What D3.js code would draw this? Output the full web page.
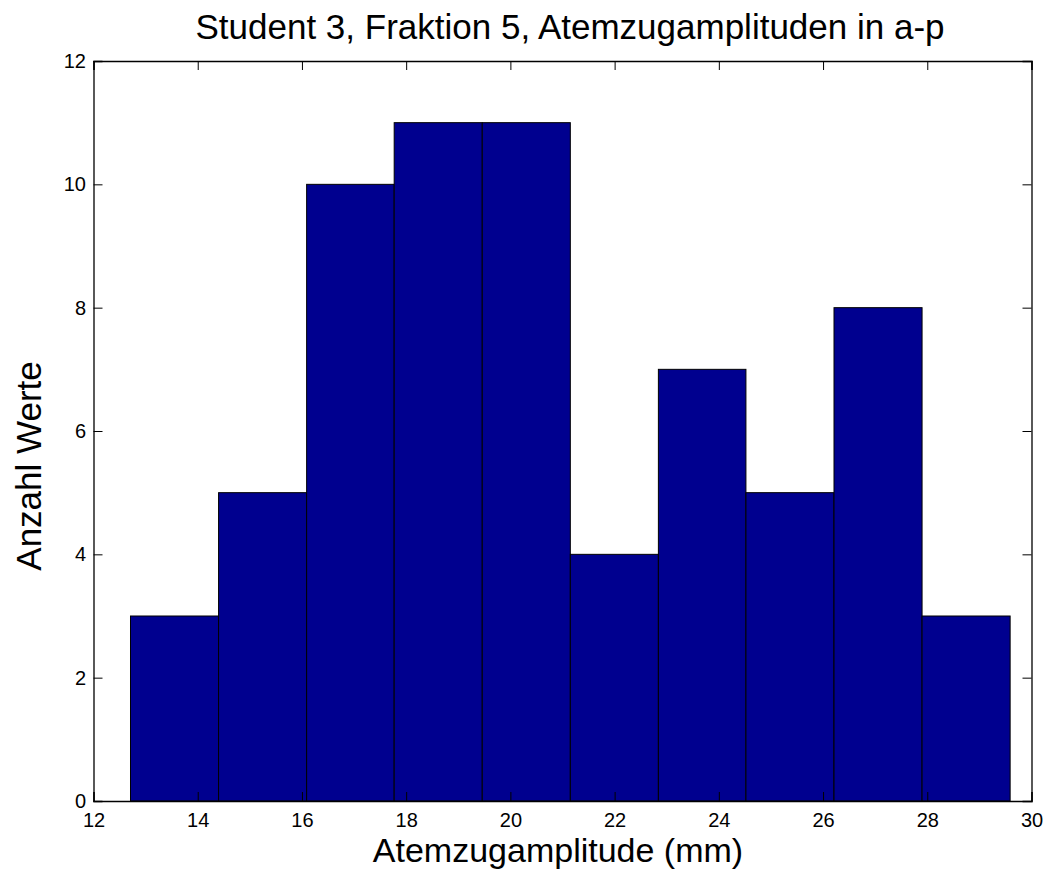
<!DOCTYPE html>
<html>
<head>
<meta charset="utf-8">
<script src="https://cdn.jsdelivr.net/npm/d3@7"></script>
<style>
  body { margin: 0; background: #fff; }
  text { font-family: "Liberation Sans", Arial, sans-serif; fill: #000; }
</style>
</head>
<body>
<svg id="chart" width="1048" height="877"></svg>
<script>
// Data
const binEdges = [12.71, 14.40, 16.09, 17.77, 19.46, 21.15, 22.84, 24.52, 26.21, 27.90, 29.59]
const counts = [3, 5, 10, 11, 11, 4, 7, 5, 8, 3]
const xTicks = [12, 14, 16, 18, 20, 22, 24, 26, 28, 30]
const yTicks = [0, 2, 4, 6, 8, 10, 12]

const margin = {left: 93.5, right: 1048 - 1031.5, top: 61, bottom: 877 - 801}
const width = 1048, height = 877

const svg = d3.select("#chart")

const x = d3.scaleLinear().domain([12, 30]).range([margin.left, width - margin.right])
const y = d3.scaleLinear().domain([0, 12]).range([height - margin.bottom, margin.top])

const bins = counts.map((c, i) => ({x0: binEdges[i], x1: binEdges[i+1], count: c}))

// bars
svg.append("g")
  .selectAll("rect")
  .data(bins)
  .join("rect")
    .attr("x", d => x(d.x0))
    .attr("y", d => y(d.count))
    .attr("width", d => x(d.x1) - x(d.x0))
    .attr("height", d => y(0) - y(d.count))
    .attr("fill", "#00008f")
    .attr("stroke", "#000")
    .attr("stroke-width", 1)

const tickLen = 9

// axes with inward ticks (MATLAB box style)
const gx = svg.append("g")
  .attr("transform", `translate(0,${y(0)})`)
  .call(d3.axisBottom(x).tickValues(xTicks).tickSize(-tickLen).tickPadding(12))
const gxTop = svg.append("g")
  .attr("transform", `translate(0,${y(12)})`)
  .call(d3.axisTop(x).tickValues(xTicks).tickSize(-tickLen).tickFormat(""))
const gy = svg.append("g")
  .attr("transform", `translate(${x(12)},0)`)
  .call(d3.axisLeft(y).tickValues(yTicks).tickSize(-tickLen).tickPadding(7.5))
const gyRight = svg.append("g")
  .attr("transform", `translate(${x(30)},0)`)
  .call(d3.axisRight(y).tickValues(yTicks).tickSize(-tickLen).tickFormat(""))

const axes = [gx, gxTop, gy, gyRight]
axes.forEach(g => {
  g.attr("font-size", 20)
  g.select(".domain").attr("stroke", "#000").attr("stroke-width", 1.3)
  g.selectAll(".tick line").attr("stroke", "#000")
  g.selectAll(".tick text").attr("font-size", 20).style("font-size", "20px")
})

// title and labels
svg.append("text")
  .attr("x", 570)
  .attr("y", 39)
  .attr("text-anchor", "middle")
  .style("font-size", "35px")
  .text("Student 3, Fraktion 5, Atemzugamplituden in a-p")

svg.append("text")
  .attr("x", 558)
  .attr("y", 862)
  .attr("text-anchor", "middle")
  .style("font-size", "34px")
  .text("Atemzugamplitude (mm)")

svg.append("text")
  .attr("transform", "translate(41,466) rotate(-90)")
  .attr("text-anchor", "middle")
  .style("font-size", "35px")
  .text("Anzahl Werte")
</script>
</body>
</html>
